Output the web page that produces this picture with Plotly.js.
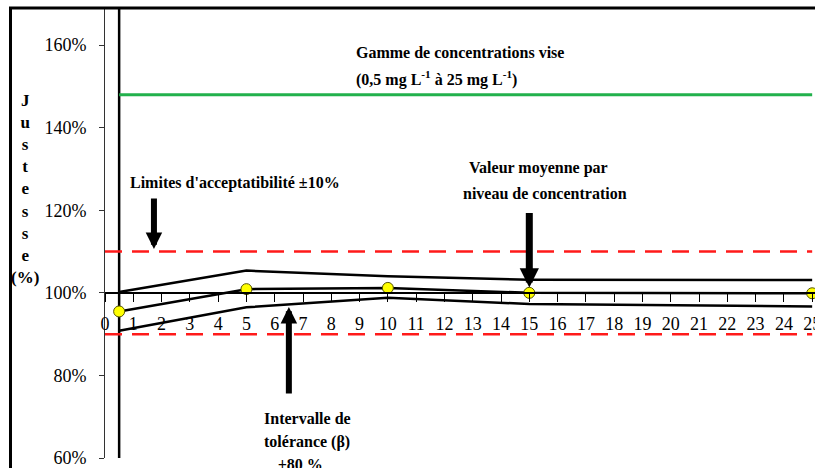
<!DOCTYPE html>
<html>
<head>
<meta charset="utf-8">
<script src="https://cdn.plot.ly/plotly-3.0.1.min.js"></script>
</head>
<body style="margin:0">
<div id="graph"></div>
<script>
// concentration levels (mg/L) and recovery values (%)
const concLevels = [0.5, 5, 10, 15, 25];
const meanRecovery = [95.5, 100.9, 101.2, 100.0, 99.9];
const upperTolerance = [100.2, 105.4, 104.0, 103.2, 103.1];
const lowerTolerance = [90.8, 96.5, 98.8, 97.3, 96.7];
const acceptLimits = [90, 110];
const targetRange = [0.5, 25];
const targetLevel = 148;
const yTickVals = [60, 80, 100, 120, 140, 160];
const yTickText = ['60%', '80%', '100%', '120%', '140%', '160%'];
const yTitleLetters = ['J', 'u', 's', 't', 'e', 's', 's', 'e', '(%)'];

const graphDiv = document.getElementById('graph');
const yRange = [60, 169];
const xRange = [0, 25.1];
const xAxisPos = (100 - yRange[0]) / (yRange[1] - yRange[0]);
const fontFam = 'Liberation Serif';
const black = '#000000';

var data = [
    // vertical start-of-range line
    { mode: 'lines', x: [targetRange[0], targetRange[0]], y: yRange, line: { color: black, width: 2.5 } },
    // target concentration range
    { mode: 'lines', x: targetRange, y: [targetLevel, targetLevel], line: { color: '#22b14c', width: 3 } },
    // acceptability limits
    { mode: 'lines', x: [0, 25], y: [acceptLimits[1], acceptLimits[1]], line: { color: '#ff1a1a', width: 2.5, dash: '17px,10px' } },
    { mode: 'lines', x: [0, 25], y: [acceptLimits[0], acceptLimits[0]], line: { color: '#ff1a1a', width: 2.5, dash: '17px,10px' } },
    // tolerance interval
    { mode: 'lines', x: concLevels, y: upperTolerance, line: { color: black, width: 2.5 } },
    { mode: 'lines', x: concLevels, y: lowerTolerance, line: { color: black, width: 2.5 } },
    // mean values
    { mode: 'lines+markers', x: concLevels, y: meanRecovery, line: { color: black, width: 2.5 },
      marker: { color: '#ffff00', size: 11, line: { color: '#555500', width: 1 } }, cliponaxis: false }
];

function px2x(p) { return xRange[0] + (p - 105) * (xRange[1] - xRange[0]) / 710; }
function px2y(p) { return yRange[0] + (458 - p) * (yRange[1] - yRange[0]) / 450; }

function label(text, px, py, anchor) {
    return { text: '<b>' + text + '</b>', x: px2x(px), y: px2y(py), xanchor: anchor, yanchor: 'middle', showarrow: false,
             font: { family: fontFam, size: 16, color: black } };
}
function arrow(x, y, ay, w) {
    return { text: '', x: x, y: y, ax: 0, ay: ay, showarrow: true, arrowhead: 2, arrowsize: 0.55,
             arrowwidth: w, arrowcolor: black, standoff: 0 };
}

var annotations = [
    label('Gamme de concentrations vise', 354, 52, 'left'),
    label('(0,5 mg L<sup>-1</sup> à 25 mg L<sup>-1</sup>)', 354, 78, 'left'),
    label("Limites d'acceptatibilité ±10%", 128, 183, 'left'),
    label('Valeur moyenne par', 538, 168, 'center'),
    label('niveau de concentration', 545, 193, 'center'),
    label('Intervalle de', 307, 418, 'center'),
    label('tolérance (β)', 307, 442, 'center'),
    { text: '<b>±80 %</b>', xref: 'x', yref: 'paper', x: px2x(300), y: (458 - 464) / 450, xanchor: 'center', yanchor: 'middle',
      showarrow: false, font: { family: fontFam, size: 16, color: black } },
    arrow(1.73, 110.6, -52, 6),
    arrow(15, 101.3, -76, 7),
    arrow(6.5, 96.6, 88, 6),
    { text: '<b>' + yTitleLetters.join('<br>') + '</b>', xref: 'paper', yref: 'paper', x: (25 - 105) / 710, y: (458 - 188.5) / 450,
      xanchor: 'center', yanchor: 'middle', align: 'center', showarrow: false,
      font: { family: fontFam, size: 17, color: black } }
];

var layout = {
    width: 815,
    height: 468,
    margin: { l: 105, r: 0, t: 8, b: 10, pad: 0 },
    showlegend: false,
    paper_bgcolor: '#ffffff',
    plot_bgcolor: '#ffffff',
    font: { family: fontFam, color: black },
    xaxis: {
        range: xRange, tick0: 0, dtick: 1, anchor: 'free', position: xAxisPos,
        showline: true, linecolor: black, linewidth: 1.5, ticks: 'outside', ticklen: 8, tickcolor: black,
        showgrid: false, zeroline: false, ticklabelstandoff: 7, ticklabeloverflow: 'allow',
        tickfont: { family: fontFam, size: 18, color: black }
    },
    yaxis: {
        range: yRange, tickmode: 'array', tickvals: yTickVals, ticktext: yTickText,
        showline: true, linecolor: '#333333', linewidth: 1, ticks: 'outside', ticklen: 5, tickcolor: '#333333',
        showgrid: false, zeroline: false, ticklabelstandoff: 9, ticklabeloverflow: 'allow',
        tickfont: { family: fontFam, size: 18, color: black }
    },
    shapes: [
        { type: 'rect', xref: 'paper', yref: 'paper', x0: (10.5 - 105) / 710, x1: 1.05, y0: -0.1, y1: 1,
          line: { color: black, width: 3 } }
    ],
    annotations: annotations
};

Plotly.newPlot(graphDiv, data, layout, { displayModeBar: false });
</script>
</body>
</html>
